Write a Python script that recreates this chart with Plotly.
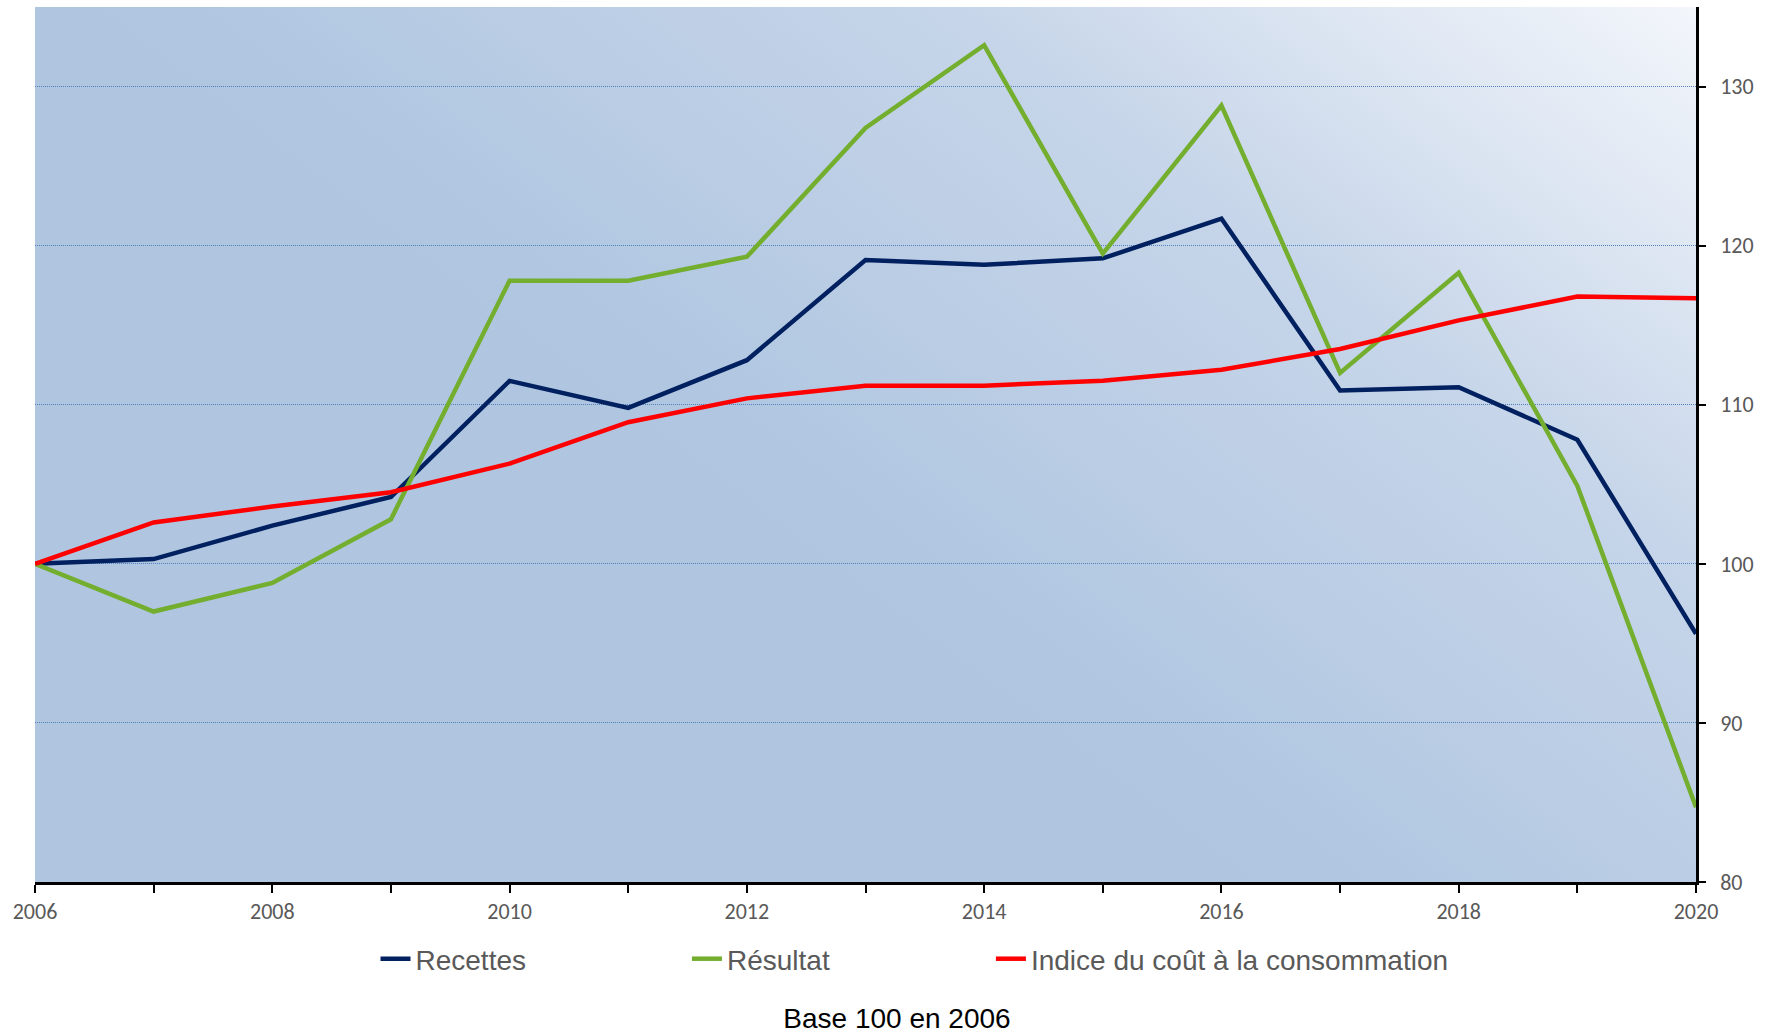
import base64
import plotly.graph_objects as go

years = list(range(2006, 2021))
recettes = [100, 100.3, 102.4, 104.2, 111.5, 109.8, 112.8, 119.1, 118.8, 119.2, 121.7, 110.9, 111.1, 107.8, 95.6]
resultat = [100, 97.0, 98.8, 102.8, 117.8, 117.8, 119.3, 127.4, 132.6, 119.5, 128.8, 112.0, 118.3, 104.9, 84.7]
indice = [100, 102.6, 103.6, 104.5, 106.3, 108.9, 110.4, 111.2, 111.2, 111.5, 112.2, 113.5, 115.3, 116.8, 116.7]

series_names = ["Recettes", "Résultat", "Indice du coût à la consommation"]
series_colors = ["#002060", "#74AE2E", "#FF0000"]
x_tick_vals = [2006, 2008, 2010, 2012, 2014, 2016, 2018, 2020]
y_tick_vals = [80, 90, 100, 110, 120, 130]
title_text = "Base 100 en 2006"

W, H = 1766, 1033
L, R, T, B = 35, 70, 7, 151
pw, ph = W - L - R, H - T - B

# gradient background for plot area (SVG)
svg = (
    f'<svg xmlns="http://www.w3.org/2000/svg" width="{pw}" height="{ph}" viewBox="0 0 {pw} {ph}" preserveAspectRatio="none">'
    f'<defs><linearGradient id="g" gradientUnits="userSpaceOnUse" x1="{pw*0.64:.0f}" y1="{ph*0.91:.0f}" x2="{pw}" y2="0">'
    '<stop offset="0" stop-color="#B0C6E0"/>'
    '<stop offset="0.1" stop-color="#B1C7E1"/>'
    '<stop offset="0.55" stop-color="#C6D5E9"/>'
    '<stop offset="1" stop-color="#F3F6FB"/>'
    '</linearGradient></defs>'
    f'<rect x="0" y="0" width="{pw}" height="{ph}" fill="url(#g)"/></svg>'
)
svg_uri = "data:image/svg+xml;base64," + base64.b64encode(svg.encode()).decode()

fig = go.Figure()
legend_ids = ["legend", "legend2", "legend3"]
for name, vals, col, lg in zip(series_names, [recettes, resultat, indice], series_colors, legend_ids):
    fig.add_trace(go.Scatter(
        x=years, y=vals, mode="lines", name=name,
        line=dict(color=col, width=4.5),
        legend=lg, hoverinfo="x+y+name",
    ))

legend_common = dict(
    orientation="h", yanchor="middle", y=-0.088, xanchor="left",
    bgcolor="rgba(0,0,0,0)",
    font=dict(family="Liberation Sans, Arial, sans-serif", size=28, color="#595959"),
)

tick_font = dict(family="Carlito, Lato, sans-serif", size=22, color="#595959")

fig.update_layout(
    width=W, height=H,
    margin=dict(l=L, r=R, t=T, b=B),
    paper_bgcolor="white",
    plot_bgcolor="rgba(0,0,0,0)",
    showlegend=True,
    legend=dict(x=0.205, **legend_common),
    legend2=dict(x=0.3925, **legend_common),
    legend3=dict(x=0.5755, **legend_common),
    title=dict(
        text=title_text, x=897 / W, xanchor="center",
        y=1 - 1018 / H, yanchor="middle",
        font=dict(family="Liberation Sans, Arial, sans-serif", size=28, color="#000000"),
    ),
    xaxis=dict(
        range=[2006, 2020], tickvals=x_tick_vals, ticktext=[str(v) for v in x_tick_vals],
        ticks="outside", ticklen=8, tickwidth=2, tickcolor="black",
        minor=dict(dtick=1, tick0=2006, ticks="outside", ticklen=8, tickwidth=2, tickcolor="black", showgrid=False),
        showline=True, linecolor="black", linewidth=2.5,
        showgrid=False, zeroline=False, tickfont=tick_font, ticklabelstandoff=0,
    ),
    yaxis=dict(
        range=[80, 135], tickvals=y_tick_vals, side="right",
        ticks="outside", ticklen=7, tickwidth=2, tickcolor="black",
        showline=True, linecolor="black", linewidth=2.5,
        showgrid=True, gridcolor="#4F81BD", gridwidth=1.2, griddash="1px,1px",
        zeroline=False, tickfont=tick_font, ticklabelstandoff=10,
    ),
    images=[dict(
        source=svg_uri, xref="paper", yref="paper", x=0, y=1,
        sizex=1, sizey=1, xanchor="left", yanchor="top",
        sizing="stretch", layer="below",
    )],
)

fig.write_html("out.html", config={"displayModeBar": False},
               post_script="document.body.style.margin='0';")
